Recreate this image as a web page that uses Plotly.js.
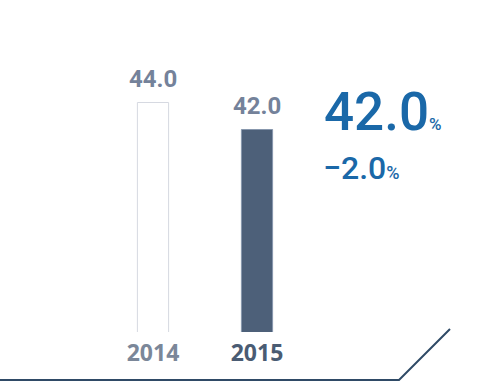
<!DOCTYPE html>
<html>
<head>
<meta charset="utf-8">
<script src="https://cdn.plot.ly/plotly-3.0.1.min.js"></script>
<style>html,body{margin:0;padding:0;background:#fff;}#chart{width:501px;height:387px;}</style>
</head>
<body>
<div id="chart"></div>
<script>
const categories = ["2014", "2015"];
const values = [44.0, 42.0];
const valueLabels = ["44.0", "42.0"];
const currentValue = "42.0";
const changeValue = "−2.0";
const unit = "%";

const barFill = ["#ffffff", "#4d6079"];
const barLine = ["#d6d9e1", "#8797ad"];
const yearColors = ["#7b8799", "#4a5c73"];

const trace = {
  type: "bar",
  x: categories,
  y: values,
  marker: { color: barFill, line: { color: barLine, width: 1 } },
  hoverinfo: "none",
  width: 0.3
};

const annotations = categories.map((c, i) => ({
  x: i, y: values[i], xref: "x", yref: "y",
  text: "<b>" + valueLabels[i] + "</b>", showarrow: false,
  yanchor: "bottom", yshift: 8,
  font: { family: "Roboto", size: 24, color: "#74829a" }
}));

annotations.push({
  xref: "paper", yref: "paper",
  x: (322 - 101) / 208, y: (332 - 145) / 292,
  xanchor: "left", yanchor: "bottom",
  text: currentValue + "<span style='font-size:17px'>" + unit + "</span>",
  showarrow: false,
  font: { family: "Roboto", size: 53, color: "#1a68a8", weight: 500 }
});
annotations.push({
  xref: "paper", yref: "paper",
  x: (321 - 101) / 208, y: (332 - 189) / 292,
  xanchor: "left", yanchor: "bottom",
  text: changeValue + "<span style='font-size:18px'>" + unit + "</span>",
  showarrow: false,
  font: { family: "Roboto", size: 32, color: "#1a68a8", weight: 500 }
});

const layout = {
  width: 501, height: 387,
  margin: { l: 101, r: 192, t: 40, b: 55 },
  paper_bgcolor: "#ffffff",
  plot_bgcolor: "#ffffff",
  showlegend: false,
  xaxis: {
    type: "category",
    range: [-0.5, 1.5],
    tickvals: categories,
    ticktext: categories.map((c, i) => "<span style='color:" + yearColors[i] + "'><b>" + c + "</b></span>"),
    tickfont: { family: "Open Sans", size: 23 },
    showgrid: false, zeroline: false, showline: false, ticks: "",
    ticklabelstandoff: 5
  },
  yaxis: {
    range: [27, 27 + 292 / 13.5],
    visible: false, showgrid: false, zeroline: false
  },
  annotations: annotations,
  shapes: [{
    type: "path", xref: "paper", yref: "paper",
    path: "M " + ((0 - 101) / 208) + "," + ((332 - 380) / 292) +
          " L " + ((399 - 101) / 208) + "," + ((332 - 380) / 292) +
          " L " + ((450 - 101) / 208) + "," + ((332 - 329) / 292),
    line: { color: "#2f4a66", width: 2 }
  }]
};

Plotly.newPlot("chart", [trace], layout, { displayModeBar: false, staticPlot: true });
</script>
</body>
</html>
